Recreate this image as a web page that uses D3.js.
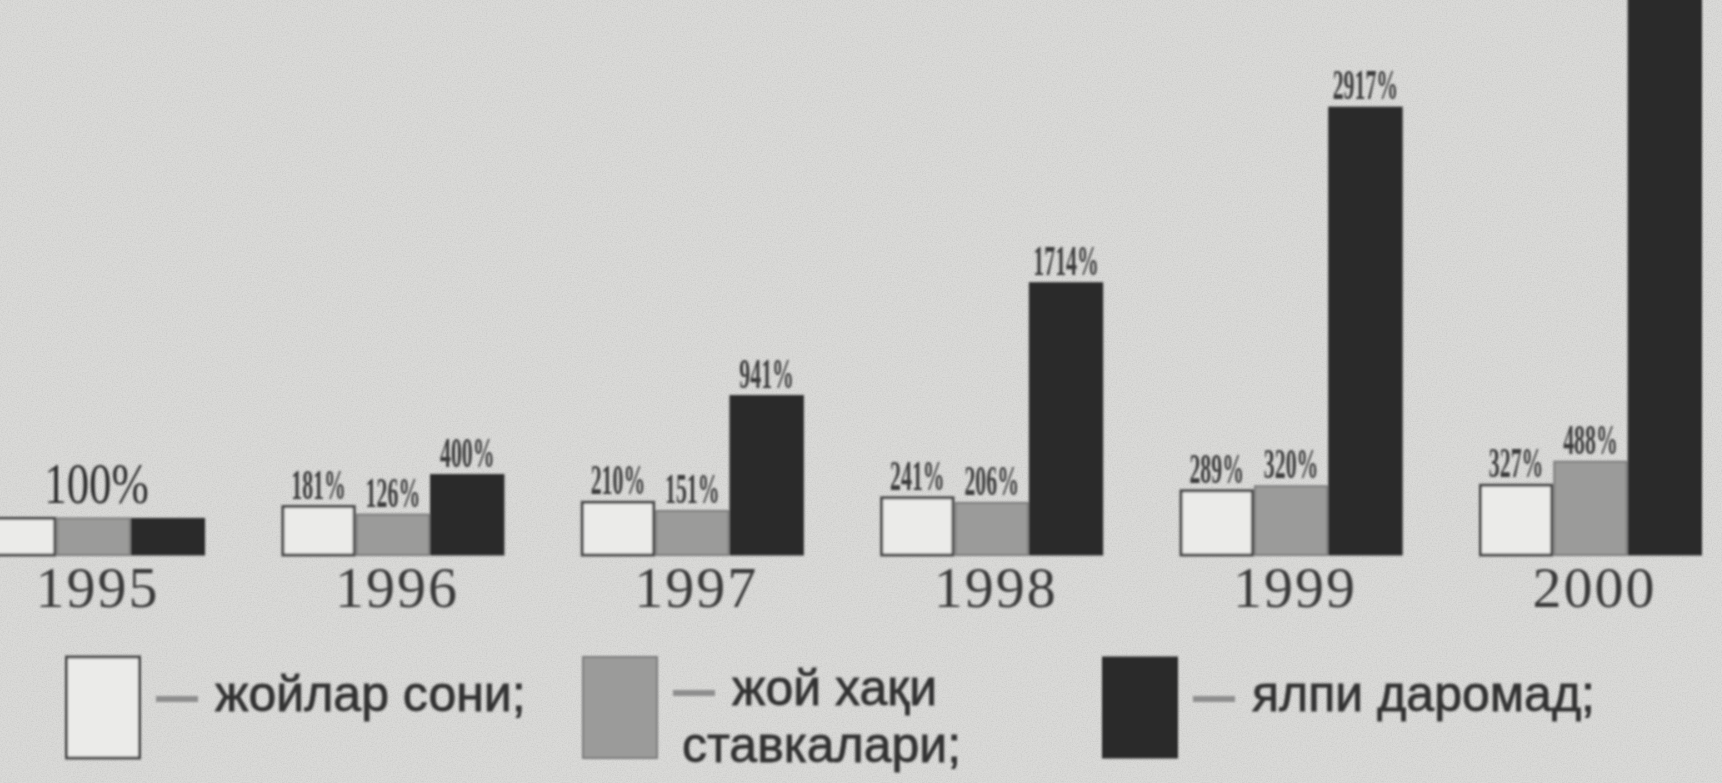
<!DOCTYPE html>
<html>
<head>
<meta charset="utf-8">
<script src="https://cdn.jsdelivr.net/npm/d3@7/dist/d3.min.js"></script>
<style>
  html, body { margin: 0; padding: 0; background: #d9d9d7; overflow: hidden; }
  svg { display: block; }
</style>
</head>
<body>
<svg id="chart" width="1722" height="783"></svg>
<script>
// ---- data ----
const years = ["1995", "1996", "1997", "1998", "1999", "2000"];
const seriesKeys = ["rooms", "rate", "income"];
const seriesNames = ["жойлар сони;", "жой хақи\nставкалари;", "ялпи даромад;"];
const roomCount   = [100, 181, 210, 241, 289, 327];   // жойлар сони, %
const roomRate    = [100, 126, 151, 206, 320, 488];   // жой хақи ставкалари, %
const grossIncome = [100, 400, 941, 1714, 2917, 4000]; // ялпи даромад, % (2000 bar runs off the top, label not visible)
const seriesValues = [roomCount, roomRate, grossIncome];

// ---- styles ----
const fills   = ["#ebebe9", "#9b9b9a", "#2b2b2b"];
const strokes = ["#4a4a4a", "#7d7d7d", "#2b2b2b"];
const strokeW = [3, 2, 1];

const W = 1722, H = 783;
const baseline = 555;

const svg = d3.select("#chart");

// paper texture
const defs = svg.append("defs");
const noise = defs.append("filter").attr("id", "grain").attr("x", 0).attr("y", 0).attr("width", "100%").attr("height", "100%");
noise.append("feTurbulence").attr("type", "fractalNoise").attr("baseFrequency", 0.8).attr("numOctaves", 2).attr("seed", 4).attr("result", "n");
noise.append("feColorMatrix").attr("type", "matrix")
  .attr("values", "0 0 0 0 0.35  0 0 0 0 0.35  0 0 0 0 0.35  0 0 0 -1.4 0.85");
const soft = defs.append("filter").attr("id", "soft");
soft.append("feGaussianBlur").attr("stdDeviation", 0.8);

svg.append("rect").attr("width", W).attr("height", H).attr("fill", "#dadad8");
svg.append("rect").attr("width", W).attr("height", H).attr("filter", "url(#grain)").attr("opacity", 0.35);

const g = svg.append("g").attr("filter", "url(#soft)");

// ---- scales ----
const x0 = d3.scaleBand().domain(years).range([-18, 1702]).paddingInner(0.255).paddingOuter(0);
const x1 = d3.scaleBand().domain(seriesKeys).range([0, x0.bandwidth()]);
// hand-drawn chart: bars start from a minimum stub height
const y = d3.scaleLinear().domain([0, 3000]).range([baseline - 22, baseline - 460]);

const rows = years.map((yr, i) => ({
  year: yr,
  vals: seriesKeys.map((k, s) => ({ key: k, s, v: seriesValues[s][i] }))
}));

const groups = g.selectAll("g.grp").data(rows).join("g")
  .attr("class", "grp")
  .attr("transform", d => `translate(${x0(d.year)},0)`);

groups.selectAll("rect").data(d => d.vals).join("rect")
  .attr("x", d => x1(d.key) + strokeW[d.s] / 2)
  .attr("y", d => y(d.v))
  .attr("width", d => x1.bandwidth() - strokeW[d.s])
  .attr("height", d => baseline - y(d.v))
  .attr("fill", d => fills[d.s])
  .attr("stroke", d => strokes[d.s])
  .attr("stroke-width", d => strokeW[d.s]);

// value labels
groups.each(function (d) {
  const grp = d3.select(this);
  const allEqual = d.vals.every(v => v.v === d.vals[0].v);
  if (allEqual) {
    grp.append("text")
      .attr("transform", `translate(${x0.bandwidth() / 2 + 3},${y(d.vals[0].v) - 15}) scale(0.8,1)`)
      .attr("text-anchor", "middle")
      .attr("font-family", "Liberation Serif, serif")
      .attr("font-size", 56)
      .attr("fill", "#2f2f2f")
      .text(d.vals[0].v + "%");
  } else {
    d.vals.forEach(v => {
      const ty = y(v.v) - 8;
      if (ty < 20) return; // off the top of the picture
      grp.append("text")
        .attr("transform", `translate(${x1(v.key) + x1.bandwidth() / 2},${ty}) scale(0.52,1)`)
        .attr("text-anchor", "middle")
        .attr("font-family", "Liberation Serif, serif")
        .attr("font-weight", "bold")
        .attr("font-size", 42)
        .attr("fill", "#3a3a3a")
        .text(v.v + "%");
    });
  }
});

// year labels
g.selectAll("text.year").data(years).join("text")
  .attr("class", "year")
  .attr("x", d => x0(d) + x0.bandwidth() / 2 + 4)
  .attr("y", 607)
  .attr("text-anchor", "middle")
  .attr("font-family", "Liberation Serif, serif")
  .attr("font-size", 58)
  .attr("letter-spacing", 2)
  .attr("fill", "#3a3a3a")
  .text(d => d);

// ---- legend ----
const legendX = [65, 582, 1102];
const boxTop = 657, boxW = 76, boxH = 101;
const leg = g.selectAll("g.leg").data(seriesNames).join("g")
  .attr("class", "leg")
  .attr("transform", (d, i) => `translate(${legendX[i]},${boxTop})`);

leg.append("rect")
  .attr("x", (d, i) => strokeW[i] / 2)
  .attr("y", 0)
  .attr("width", (d, i) => boxW - strokeW[i])
  .attr("height", boxH)
  .attr("fill", (d, i) => fills[i])
  .attr("stroke", (d, i) => strokes[i])
  .attr("stroke-width", (d, i) => strokeW[i]);

leg.each(function (name) {
  const el = d3.select(this);
  const lines = name.split("\n");
  const dashY = lines.length > 1 ? 36 : 42;
  el.append("line")
    .attr("x1", 91).attr("x2", 133)
    .attr("y1", dashY).attr("y2", dashY)
    .attr("stroke", "#8e8e8e").attr("stroke-width", 6);
  lines.forEach((ln, j) => {
    el.append("text")
      .attr("x", j === 0 ? 150 : 100)
      .attr("y", (lines.length > 1 ? 48 : 54) + j * 57)
      .attr("font-family", "Liberation Sans, Arial, sans-serif")
      .attr("font-size", 50)
      .attr("fill", "#333")
      .attr("stroke", "#333")
      .attr("stroke-width", 0.8)
      .text(ln);
  });
});
</script>
</body>
</html>
